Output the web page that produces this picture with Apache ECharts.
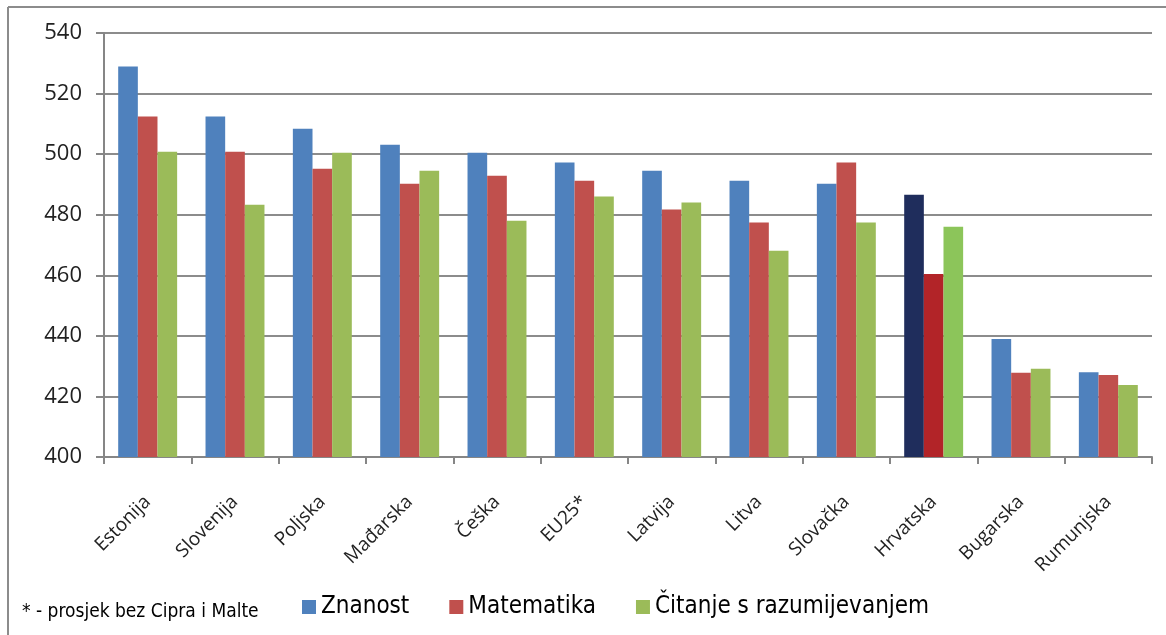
<!DOCTYPE html>
<html>
<head>
<meta charset="utf-8">
<script src="https://cdn.jsdelivr.net/npm/echarts@6/dist/echarts.min.js"></script>
<style>
  html, body { margin: 0; padding: 0; background: #fff; }
  #chart { width: 1166px; height: 635px; }
</style>
</head>
<body>
<div id="chart"></div>
<script>
var zemlje = ['Estonija', 'Slovenija', 'Poljska', 'Mađarska', 'Češka', 'EU25*', 'Latvija', 'Litva', 'Slovačka', 'Hrvatska', 'Bugarska', 'Rumunjska'];
var znanost = [528.9, 512.4, 508.4, 503.1, 500.5, 497.2, 494.5, 491.2, 490.2, 486.6, 439.0, 428.0];
var matematika = [512.4, 500.8, 495.2, 490.2, 492.9, 491.2, 481.7, 477.4, 497.2, 460.4, 427.8, 427.1];
var citanje = [500.8, 483.3, 500.5, 494.5, 478.0, 486.0, 484.0, 468.1, 477.4, 476.0, 429.1, 423.8];
var yTicks = [400, 420, 440, 460, 480, 500, 520, 540];

var istaknuto = 'Hrvatska';
var boje = ['#4F81BD', '#C0504D', '#9BBB59'];
var bojeHr = ['#1F2D5C', '#B22428', '#8CC55A'];

var chart = echarts.init(document.getElementById('chart'));

// Hrvatska ima tamnije / jače boje
function podaci(vrijednosti, i) {
    return vrijednosti.map(function (v, k) {
        if (zemlje[k] === istaknuto) {
            return { value: v, itemStyle: { color: bojeHr[i] } };
        }
        return v;
    });
}

var nazivi = ['Znanost', 'Matematika', 'Čitanje s razumijevanjem'];
var serije = [znanost, matematika, citanje].map(function (vr, i) {
    return {
        name: nazivi[i],
        type: 'bar',
        data: podaci(vr, i),
        barWidth: '22.5%',
        barGap: '0%',
        itemStyle: { color: boje[i] }
    };
});

var option = {
    animation: false,
    textStyle: { fontFamily: 'Open Sans, sans-serif' },
    grid: { left: 104, right: 14, top: 33, bottom: 178 },
    legend: {
        left: 297,
        top: 590,
        itemWidth: 14,
        itemHeight: 14,
        itemGap: 40,
        icon: 'rect',
        textStyle: {
            fontSize: 24,
            color: '#000',
            fontFamily: 'Liberation Sans Narrow, DejaVu Sans Condensed, sans-serif'
        },
        data: nazivi
    },
    xAxis: {
        type: 'category',
        data: zemlje,
        axisLine: { lineStyle: { color: '#868686', width: 2 } },
        axisTick: { show: true, length: 7, lineStyle: { color: '#868686', width: 2 } },
        axisLabel: {
            rotate: 45,
            fontSize: 19,
            color: '#222',
            margin: 42,
            interval: 0
        }
    },
    yAxis: {
        type: 'value',
        min: yTicks[0],
        max: yTicks[yTicks.length - 1],
        interval: 20,
        axisLine: { show: true, lineStyle: { color: '#868686', width: 2 } },
        axisTick: { show: true, length: 8, lineStyle: { color: '#868686', width: 2 } },
        axisLabel: { fontSize: 22, color: '#222', margin: 22 },
        splitLine: { lineStyle: { color: '#8c8c8c', width: 2 } }
    },
    graphic: [
        { type: 'line', shape: { x1: 8, y1: 7, x2: 1166, y2: 7 }, style: { stroke: '#8c8c8c', lineWidth: 2 } },
        { type: 'line', shape: { x1: 8, y1: 7, x2: 8, y2: 635 }, style: { stroke: '#8c8c8c', lineWidth: 2 } },
        {
            type: 'text',
            left: 22,
            top: 603,
            style: {
                text: '* - prosjek bez Cipra i Malte',
                fontSize: 19,
                fill: '#000',
                fontFamily: 'Liberation Sans Narrow, DejaVu Sans Condensed, sans-serif'
            }
        }
    ],
    series: serije
};

chart.setOption(option);
</script>
</body>
</html>
